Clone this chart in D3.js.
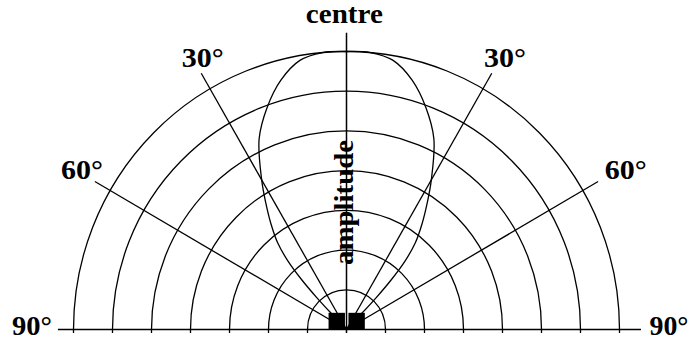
<!DOCTYPE html>
<html>
<head>
<meta charset="utf-8">
<script src="https://cdn.jsdelivr.net/npm/d3@7"></script>
<style>
  html, body { margin: 0; padding: 0; background: #fff; }
  svg { display: block; }
  text { font-family: "Liberation Serif", "Times New Roman", serif; font-weight: bold; fill: #000; }
</style>
</head>
<body>
<svg id="chart" width="692" height="345"></svg>
<script>
// Range rings (amplitude units) and spoke directions (degrees from centre line)
const ringRadii = [1, 2, 3, 4, 5, 6, 7];
const spokeAngles = [-60, -30, 30, 60];
const labelAngles = [-60, -30, 0, 30, 60];
const labelTexts = ["60°", "30°", "centre", "30°", "60°"];
const sideLabels = ["90°", "90°"];

// Beam pattern: direction (deg) and relative amplitude
const lobeAngles = [-45, -44, -43.5, -42.5, -41, -39, -36, -33, -30, -25, -20, -15, -10, -5, 0,
                    5, 10, 15, 20, 25, 30, 33, 36, 39, 41, 42.5, 43.5, 44, 45];
const lobeAmps   = [0, 0.5, 1.1, 1.7, 2.3, 2.8, 3.3, 3.8, 4.35, 5.3, 5.95, 6.5, 6.88, 7.0, 7.0,
                    7.0, 6.88, 6.5, 5.95, 5.3, 4.35, 3.8, 3.3, 2.8, 2.3, 1.7, 1.1, 0.5, 0];

// Transducer elements at the origin: [left edge, right edge] in amplitude units
const elementEdges = [[-0.46, -0.04], [0.05, 0.47]];
const elementHeight = 0.42;

const svg = d3.select("#chart");
const cx = 346.5, cy = 329.5;
const rx = d3.scaleLinear().domain([0, 7]).range([0, 273]);
const ry = d3.scaleLinear().domain([0, 7]).range([0, 278]);
const rad = d => d * Math.PI / 180;
const px = (a, r) => cx + rx(r) * Math.sin(rad(a));
const py = (a, r) => cy - ry(r) * Math.cos(rad(a));

const ink = "#000";
const g = svg.append("g");

// Rings with small ticks below the base line
g.selectAll("path.ring").data(ringRadii).join("path")
  .attr("class", "ring")
  .attr("fill", "none").attr("stroke", ink).attr("stroke-width", 1.3)
  .attr("d", r => {
    const a = rx(r), b = ry(r);
    return `M${cx - a},${cy + 3.5}L${cx - a},${cy}A${a},${b} 0 0 1 ${cx + a},${cy}L${cx + a},${cy + 3.5}`;
  });

// Spokes
g.selectAll("line.spoke").data(spokeAngles).join("line")
  .attr("class", "spoke")
  .attr("x1", cx).attr("y1", cy)
  .attr("x2", a => px(a, 7.45)).attr("y2", a => py(a, 7.45))
  .attr("stroke", ink).attr("stroke-width", 1.3);

// Centre line
g.append("line")
  .attr("x1", cx).attr("y1", cy + 3.5)
  .attr("x2", cx).attr("y2", py(0, 7.47))
  .attr("stroke", ink).attr("stroke-width", 1.5);

// Base line
g.append("line")
  .attr("x1", px(-90, 7.4)).attr("y1", cy)
  .attr("x2", px(90, 7.55)).attr("y2", cy)
  .attr("stroke", ink).attr("stroke-width", 1.5);

// Beam lobe
const lobe = d3.line()
  .x((d, i) => px(lobeAngles[i], lobeAmps[i]))
  .y((d, i) => py(lobeAngles[i], lobeAmps[i]))
  .curve(d3.curveCatmullRom.alpha(0.5));
g.append("path")
  .attr("d", lobe(lobeAngles))
  .attr("fill", "none").attr("stroke", ink).attr("stroke-width", 1.3);

// Transducer elements
g.selectAll("rect.elem").data(elementEdges).join("rect")
  .attr("class", "elem")
  .attr("x", d => cx + rx(d[0]))
  .attr("width", d => rx(d[1]) - rx(d[0]))
  .attr("y", cy - ry(elementHeight))
  .attr("height", ry(elementHeight))
  .attr("fill", ink);

// Angle labels: polar placement (angle, radius) for each spoke label
const labelPlace = {
  "-60": [-59.3, 7.89], "-30": [-28.3, 7.78], "0": [-0.4, 7.85],
  "30": [30.7, 7.96], "60": [60.6, 8.22]
};
svg.selectAll("text.ang").data(labelAngles).join("text")
  .attr("class", "ang")
  .attr("x", a => px(...labelPlace[a]))
  .attr("y", a => py(...labelPlace[a]))
  .attr("dy", a => a === 0 ? "0.2em" : "0.36em")
  .attr("text-anchor", "middle")
  .attr("font-size", 27)
  .attr("textLength", (a, i) => labelTexts[i] === "centre" ? 77 : 42)
  .attr("lengthAdjust", "spacingAndGlyphs")
  .text((a, i) => labelTexts[i]);

// 90° labels at the ends of the base line
svg.append("text")
  .attr("x", px(-90, 7.55)).attr("y", cy + 5.5)
  .attr("text-anchor", "end").attr("font-size", 27)
  .attr("textLength", 40).attr("lengthAdjust", "spacingAndGlyphs")
  .text(sideLabels[0]);
svg.append("text")
  .attr("x", px(90, 7.77)).attr("y", cy + 5.5)
  .attr("text-anchor", "start").attr("font-size", 27)
  .attr("textLength", 39).attr("lengthAdjust", "spacingAndGlyphs")
  .text(sideLabels[1]);

// Axis title along the centre line
svg.append("text")
  .attr("transform", `translate(${cx + 6},${py(0, 3.2)}) rotate(-90)`)
  .attr("text-anchor", "middle").attr("font-size", 27)
  .attr("textLength", 125).attr("lengthAdjust", "spacingAndGlyphs")
  .text("amplitude");
</script>
</body>
</html>
